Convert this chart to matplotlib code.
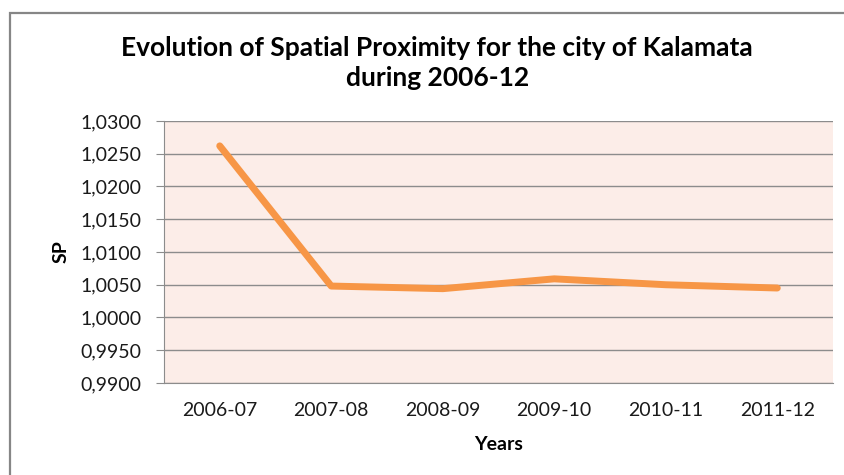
import matplotlib
matplotlib.use("Agg")
import matplotlib.pyplot as plt
from matplotlib.patches import Rectangle
from matplotlib.ticker import FuncFormatter, MultipleLocator

years = ["2006-07", "2007-08", "2008-09", "2009-10", "2010-11", "2011-12"]
sp_values = [1.0262, 1.0048, 1.0044, 1.0059, 1.0050, 1.0045]

plt.rcParams['font.family'] = ['Lato', 'DejaVu Sans']

fig = plt.figure(figsize=(8.44, 4.75), dpi=100)
ax = fig.add_axes([0.1943, 0.1937, 0.9870 - 0.1943, 0.7453 - 0.1937])

# outer chart border (excel style)
fig.patches.append(Rectangle((10 / 844, -0.1), 1.2, 0.9726 + 0.1,
                             transform=fig.transFigure, fill=False,
                             edgecolor="#868686", linewidth=1.6))

ax.set_facecolor("#FCEDE8")
ax.plot(range(len(years)), sp_values, color="#F79646", linewidth=5,
        solid_capstyle="round", solid_joinstyle="round", zorder=3)

ax.set_xlim(-0.5, len(years) - 0.5)
ax.set_ylim(0.99, 1.03)
ax.yaxis.set_major_locator(MultipleLocator(0.005))
ax.yaxis.set_major_formatter(FuncFormatter(lambda v, p: f"{v:.4f}".replace(".", ",")))
ax.set_xticks(range(len(years)))
ax.set_xticklabels(years)

ax.grid(axis="y", color="#8C8C8C", linewidth=1)
ax.set_axisbelow(True)
for s in ["top", "right"]:
    ax.spines[s].set_visible(False)
ax.spines["left"].set_color("#8C8C8C")
ax.spines["bottom"].set_color("#8C8C8C")
ax.tick_params(axis="y", length=6, color="#8C8C8C", labelsize=14, pad=10, labelcolor="#1a1a1a")
ax.tick_params(axis="x", length=0, labelsize=14, pad=14, labelcolor="#1a1a1a")

ax.set_xlabel("Years", fontsize=14, fontweight="bold", labelpad=12)
ax.set_ylabel("SP", fontsize=14, fontweight="bold", labelpad=8)

fig.text(0.518, 0.867, "Evolution of Spatial Proximity for the city of Kalamata\nduring 2006-12",
         ha="center", va="center", fontsize=19, fontweight="bold", linespacing=1.3)

fig.savefig("out.png", dpi=100)
